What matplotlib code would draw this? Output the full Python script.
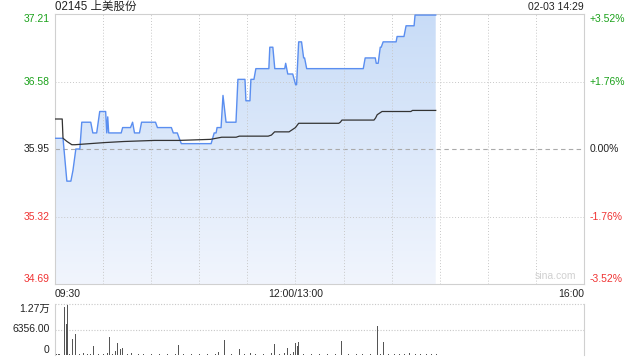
import matplotlib.pyplot as plt
import numpy as np
from matplotlib.patches import Polygon
from matplotlib.colors import LinearSegmentedColormap

plt.rcParams['font.family'] = ['Liberation Sans', 'Noto Sans CJK SC', 'DejaVu Sans']

PREV_CLOSE = 35.95
Y_TICKS = [34.69, 35.32, 35.95, 36.58, 37.21]
PCT_LABELS = ['-3.52%', '-1.76%', '0.00%', '+1.76%', '+3.52%']
TIME_LABELS = ['09:30', '12:00/13:00', '16:00']
TOTAL_MIN = 330

# minute price line (minutes from 09:30, lunch removed)
price_min = [0, 5, 5.6, 7.4, 9.9, 11.2, 13, 15.5, 16.7, 22.3, 23.6, 26, 27.9, 31.6,
             32.3, 32.9, 33.5, 41.3, 42.2, 47.1, 48.4, 49.6, 52.7, 54, 62.7, 63.9,
             72.6, 73.8, 76.3, 77.5, 78.8, 97.4, 99.3, 100.5, 101.1, 103.6, 104.8,
             106.7, 112.9, 114.1, 118.5, 119.1, 121.6, 122.2, 124.1, 125.3, 133.4,
             134, 135.9, 137.1, 143.3, 143.9, 145.2, 148.3, 150.1, 150.7, 152, 153.8,
             155.1, 155.7, 157, 192.3, 193.5, 199.8, 200.4, 201.6, 202.9, 203.5,
             204.7, 212.8, 213.4, 217.7, 219, 224, 224.6, 237.5]
price_val = [36.05, 36.05, 35.95, 35.65, 35.65, 35.75, 35.95, 35.95, 36.20, 36.20, 36.10,
             36.10, 36.30, 36.30, 36.10, 36.25, 36.10, 36.10, 36.15, 36.15, 36.20, 36.10,
             36.10, 36.20, 36.20, 36.15, 36.15, 36.10, 36.10, 36.05, 36.00, 36.00, 36.10,
             36.10, 36.15, 36.15, 36.45, 36.20, 36.20, 36.60, 36.60, 36.40, 36.40, 36.60,
             36.60, 36.70, 36.70, 36.90, 36.90, 36.70, 36.70, 36.75, 36.65, 36.65, 36.55,
             36.55, 36.95, 36.95, 36.80, 36.80, 36.70, 36.70, 36.80, 36.80, 36.75, 36.75,
             36.90, 36.90, 36.95, 36.95, 37.00, 37.00, 37.10, 37.10, 37.20, 37.20]

# average price line
avg_min = [0, 4.5, 5, 7.5, 10.5, 12.5, 31, 43, 62, 77, 97, 104, 113, 115, 133, 135, 137,
           146, 148, 150, 152, 177, 178, 179, 199, 200, 201, 204, 222, 223, 237.5]
avg_val = [36.23, 36.23, 36.05, 36.02, 35.99, 35.99, 36.01, 36.02, 36.03, 36.03, 36.04,
           36.06, 36.06, 36.07, 36.07, 36.08, 36.11, 36.11, 36.13, 36.15, 36.19, 36.19,
           36.20, 36.22, 36.22, 36.24, 36.27, 36.30, 36.30, 36.31, 36.31]

# volume bars
vol_min = [1, 2, 3, 4, 6, 7, 8, 9, 11, 13, 15, 18, 20, 22, 24, 27, 30, 33, 34, 36, 38, 39,
           41, 42, 45, 48, 52, 55, 60, 65, 70, 75, 77, 80, 85, 90, 95, 100, 102, 106, 110,
           115, 118, 122, 125, 130, 135, 137, 140, 143, 145, 147, 149, 150, 151, 152, 155,
           160, 165, 170, 175, 179, 183, 188, 192, 194, 197, 201, 203, 205, 208, 212, 215,
           218, 221, 225, 228, 232, 235, 238]
vol_val = [150, 200, 150, 100, 12000, 7700, 12500, 300, 4000, 5200, 200, 600, 200, 150,
           2200, 200, 300, 400, 4600, 300, 900, 3100, 1600, 1800, 200, 500, 200, 150, 200,
           150, 200, 150, 2500, 200, 150, 150, 200, 300, 800, 3700, 200, 1500, 300, 600,
           200, 300, 400, 2700, 300, 400, 1700, 300, 800, 3100, 2200, 3200, 300, 200, 150,
           200, 200, 3500, 200, 300, 250, 1500, 200, 7200, 300, 3300, 200, 300, 250, 200,
           400, 200, 300, 200, 300, 200]
VOL_MAX = 12700

GREEN = '#1aa11a'
RED = '#f03333'
GRID = '#c8c8c8'
FRAME = '#d0d0d0'

fig = plt.figure(figsize=(6.4, 3.6), dpi=100)
ax = fig.add_axes([55 / 640, 1 - 284 / 360, 529 / 640, 270 / 360])
ax.set_xlim(0, TOTAL_MIN)
ax.set_ylim(Y_TICKS[0], Y_TICKS[-1])

# gradient fill under price
x = np.array(price_min)
y = np.array(price_val)
grad = np.linspace(0, 1, 256).reshape(-1, 1)
cmap = LinearSegmentedColormap.from_list('g', ['#f1f5fd', '#c8dcf7'])
im = ax.imshow(grad, aspect='auto', cmap=cmap, origin='lower',
               extent=[0, TOTAL_MIN, Y_TICKS[0], Y_TICKS[-1]], zorder=1)
verts = [(x[0], Y_TICKS[0])] + list(zip(x, y)) + [(x[-1], Y_TICKS[0])]
poly = Polygon(verts, closed=True, facecolor='none', edgecolor='none')
ax.add_patch(poly)
im.set_clip_path(poly)

ax.plot(price_min, price_val, color='#5a8ef0', lw=1.0, zorder=4)
ax.plot(avg_min, avg_val, color='#333333', lw=0.9, zorder=5)

# grid
for v in [35.32, 36.58]:
    ax.axhline(v, color=GRID, lw=0.7, ls=(0, (1, 2)), zorder=2)
ax.axhline(PREV_CLOSE, color='#aaaaaa', lw=0.8, ls=(0, (4, 3)), zorder=2)
for m in range(30, TOTAL_MIN, 30):
    ax.axvline(m, color=GRID, lw=0.7, ls=(0, (1, 2)), zorder=2)

for s in ax.spines.values():
    s.set_color(FRAME)
    s.set_linewidth(0.8)
ax.set_xticks([])
ax.set_yticks([])

colors = [RED, RED, '#222222', GREEN, GREEN]
vas = ['bottom', 'center', 'center', 'center', 'top']
for v, c, va, pl in zip(Y_TICKS, colors, vas, PCT_LABELS):
    ax.text(-0.01, v, f'{v:.2f}', transform=ax.get_yaxis_transform(), ha='right',
            va=va, color=c, fontsize=7.5)
    ax.text(1.01, v, pl, transform=ax.get_yaxis_transform(), ha='left',
            va=va, color=c, fontsize=7.5)

ax.text(0.985, 0.01, 'sina.com', transform=ax.transAxes, ha='right', va='bottom',
        color='#d0d0d0', fontsize=7.5)

fig.text(55 / 640, 1 - 7 / 360, '02145 上美股份', ha='left', va='center',
         fontsize=8.3, color='#222222')
fig.text(584 / 640, 1 - 7 / 360, '02-03 14:29', ha='right', va='center',
         fontsize=7.5, color='#222222')

ty = 1 - 294 / 360
fig.text(55 / 640, ty, TIME_LABELS[0], ha='left', va='center', fontsize=7.5, color='#222222')
fig.text((55 + 529 * 150 / TOTAL_MIN) / 640, ty, TIME_LABELS[1], ha='center', va='center',
         fontsize=7.5, color='#222222')
fig.text(584 / 640, ty, TIME_LABELS[2], ha='right', va='center', fontsize=7.5, color='#222222')

# volume panel
vax = fig.add_axes([55 / 640, 1 - 355 / 360, 529 / 640, 51 / 360])
vax.set_xlim(0, TOTAL_MIN)
vax.set_ylim(0, VOL_MAX)
vax.bar(vol_min, vol_val, width=0.6, color='#555555', zorder=3)
vax.axhline(VOL_MAX, color=GRID, lw=0.8, ls=(0, (1, 1.5)), zorder=2, clip_on=False)
vax.axhline(VOL_MAX / 2, color=GRID, lw=0.8, ls=(0, (1, 1.5)), zorder=2)
vax.spines['top'].set_visible(False)
vax.spines['bottom'].set_visible(False)
for s in ['left', 'right']:
    vax.spines[s].set_color(FRAME)
    vax.spines[s].set_linewidth(0.8)
vax.set_xticks([])
vax.set_yticks([])
vax.text(-0.01, VOL_MAX, '1.27万', transform=vax.get_yaxis_transform(), ha='right',
         va='top', fontsize=7.5, color='#222222')
vax.text(-0.01, VOL_MAX / 2, '6356.00', transform=vax.get_yaxis_transform(), ha='right',
         va='center', fontsize=7.5, color='#222222')
vax.text(-0.01, 0, '0', transform=vax.get_yaxis_transform(), ha='right',
         va='bottom', fontsize=7.5, color='#222222')

fig.savefig('out.png', dpi=100)
